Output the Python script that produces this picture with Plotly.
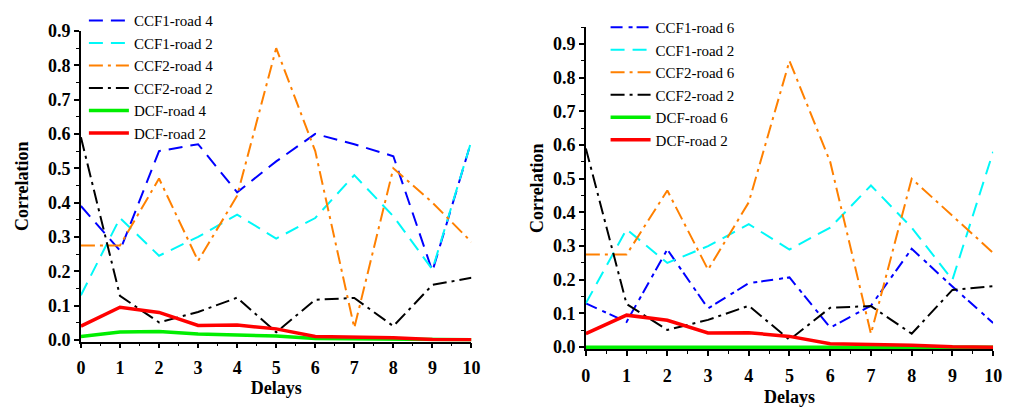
import plotly.graph_objects as go

delays = [0, 1, 2, 3, 4, 5, 6, 7, 8, 9, 10]

# Left panel (road 4 vs road 2)
ccf1_road4 = [0.39, 0.26, 0.55, 0.57, 0.43, 0.52, 0.60, 0.57, 0.535, 0.20, 0.58]
ccf1_road2_l = [0.13, 0.355, 0.245, 0.30, 0.365, 0.295, 0.355, 0.48, 0.36, 0.205, 0.58]
ccf2_road4 = [0.275, 0.275, 0.47, 0.23, 0.42, 0.85, 0.55, 0.035, 0.50, 0.40, 0.285]
ccf2_road2_l = [0.59, 0.128, 0.051, 0.081, 0.123, 0.022, 0.117, 0.122, 0.040, 0.16, 0.181]
dcf_road4 = [0.010, 0.023, 0.024, 0.017, 0.014, 0.011, 0.004, 0.003, 0.002, 0.001, 0.0]
dcf_road2_l = [0.040, 0.095, 0.080, 0.042, 0.043, 0.032, 0.010, 0.009, 0.006, 0.001, 0.0]

# Right panel (road 6 vs road 2)
ccf1_road6 = [0.13, 0.075, 0.29, 0.115, 0.19, 0.207, 0.058, 0.123, 0.292, 0.18, 0.072]
ccf1_road2_r = [0.13, 0.35, 0.25, 0.30, 0.365, 0.29, 0.355, 0.48, 0.355, 0.20, 0.58]
ccf2_road6 = [0.275, 0.275, 0.465, 0.23, 0.43, 0.85, 0.55, 0.04, 0.50, 0.39, 0.28]
ccf2_road2_r = [0.59, 0.128, 0.051, 0.081, 0.123, 0.022, 0.117, 0.122, 0.040, 0.17, 0.181]
dcf_road6 = [0.0] * 11
dcf_road2_r = [0.040, 0.095, 0.080, 0.042, 0.043, 0.032, 0.010, 0.009, 0.006, 0.001, 0.0]

x_ticks = [0, 1, 2, 3, 4, 5, 6, 7, 8, 9, 10]
y_ticks = [0.0, 0.1, 0.2, 0.3, 0.4, 0.5, 0.6, 0.7, 0.8, 0.9]
y_ticklabels = ["0.0", "0.1", "0.2", "0.3", "0.4", "0.5", "0.6", "0.7", "0.8", "0.9"]

BLUE = "#0000FF"
CYAN = "#00F8F8"
ORANGE = "#FF8000"
BLACK = "#000000"
GREEN = "#00EE00"
RED = "#FF0000"

DASH = "14px,8px"
DASHDOT = "14px,5px,3px,5px"
DASHDOT2 = "12px,6px,4px,4px"

fig = go.Figure()

def add(y, name, color, dash, width, xa, ya, legend):
    fig.add_trace(go.Scatter(
        x=delays, y=y, name=name, mode="lines",
        line=dict(color=color, dash=dash, width=width),
        xaxis=xa, yaxis=ya, legend=legend, cliponaxis=False,
    ))

add(ccf1_road4, "CCF1-road 4", BLUE, DASH, 2, "x", "y", "legend")
add(ccf1_road2_l, "CCF1-road 2", CYAN, DASH, 2, "x", "y", "legend")
add(ccf2_road4, "CCF2-road 4", ORANGE, DASHDOT, 2, "x", "y", "legend")
add(ccf2_road2_l, "CCF2-road 2", BLACK, DASHDOT, 2, "x", "y", "legend")
add(dcf_road4, "DCF-road 4", GREEN, "solid", 3.5, "x", "y", "legend")
add(dcf_road2_l, "DCF-road 2", RED, "solid", 3.5, "x", "y", "legend")

add(ccf1_road6, "CCF1-road 6", BLUE, DASHDOT2, 2, "x2", "y2", "legend2")
add(ccf1_road2_r, "CCF1-road 2", CYAN, DASH, 2, "x2", "y2", "legend2")
add(ccf2_road6, "CCF2-road 6", ORANGE, DASHDOT, 2, "x2", "y2", "legend2")
add(ccf2_road2_r, "CCF2-road 2", BLACK, DASHDOT, 2, "x2", "y2", "legend2")
add(dcf_road6, "DCF-road 6", GREEN, "solid", 3.5, "x2", "y2", "legend2")
add(dcf_road2_r, "DCF-road 2", RED, "solid", 3.5, "x2", "y2", "legend2")

W, H = 1012, 407
tickfont = dict(family="Liberation Serif", size=18, color="black", weight="bold")
titlefont = dict(family="Liberation Serif", size=18, color="black", weight="bold")

def xaxis(domain, anchor, standoff):
    return dict(
        domain=domain, anchor=anchor, range=[0, 10], tickvals=x_ticks,
        showline=True, linecolor="black", linewidth=1.5, showgrid=False, zeroline=False,
        ticks="outside", ticklen=5, tickwidth=1.5, tickcolor="black", ticklabelstandoff=4,
        layer="below traces",
        minor=dict(ticks="outside", ticklen=3, tickwidth=1.2, tickcolor="black", dtick=0.5, showgrid=False),
        tickfont=tickfont, title=dict(text="Delays", font=titlefont, standoff=standoff),
    )

def yaxis(domain, anchor, bottom, top, standoff):
    return dict(
        domain=domain, anchor=anchor, range=[bottom, top], tickvals=y_ticks, ticktext=y_ticklabels,
        showline=True, linecolor="black", linewidth=1.5, showgrid=False, zeroline=False,
        ticks="outside", ticklen=5, tickwidth=1.5, tickcolor="black",
        layer="below traces",
        minor=dict(ticks="outside", ticklen=3, tickwidth=1.2, tickcolor="black", dtick=0.05, showgrid=False),
        tickfont=tickfont, title=dict(text="Correlation", font=titlefont, standoff=standoff),
    )

legfont = dict(family="Liberation Serif", size=15, color="black")

fig.update_layout(
    width=W, height=H,
    margin=dict(l=0, r=0, t=0, b=0),
    paper_bgcolor="white", plot_bgcolor="white",
    xaxis=xaxis([77 / W, 473 / W], "y", 2),
    yaxis=yaxis([(H - 347.8) / H, (H - 22) / H], "x", -0.005, 0.9, 15),
    xaxis2=xaxis([589 / W, 1002 / W], "y2", 8),
    yaxis2=yaxis([(H - 355.8) / H, (H - 18) / H], "x2", -0.006, 0.95, 5),
    legend=dict(x=80 / W, y=1 + 6 / H, xanchor="left", yanchor="top",
                font=legfont, bgcolor="rgba(0,0,0,0)", tracegroupgap=0, itemwidth=40),
    legend2=dict(x=609 / W, y=1 - 1 / H, xanchor="left", yanchor="top",
                 font=legfont, bgcolor="rgba(0,0,0,0)", tracegroupgap=0, itemwidth=40),
    showlegend=True,
)

fig.write_html("out.html")
